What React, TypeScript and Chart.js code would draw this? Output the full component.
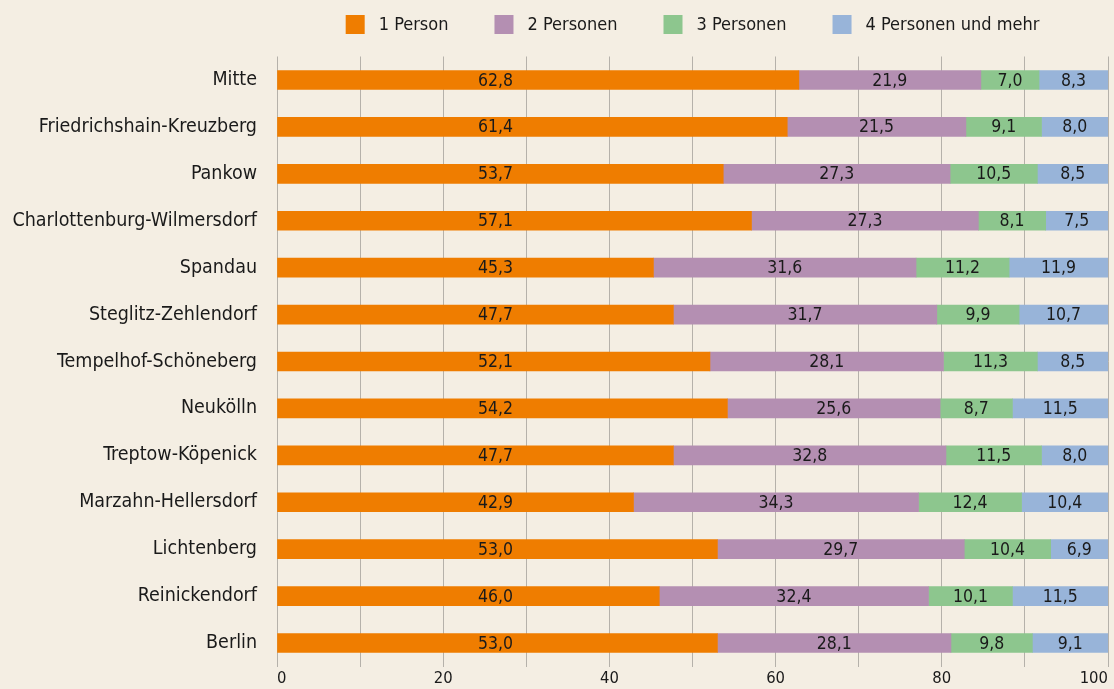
import React, { useEffect, useRef } from 'react';
import { Chart, registerables } from 'chart.js';

Chart.register(...registerables);

const districts = [
  'Mitte',
  'Friedrichshain-Kreuzberg',
  'Pankow',
  'Charlottenburg-Wilmersdorf',
  'Spandau',
  'Steglitz-Zehlendorf',
  'Tempelhof-Schöneberg',
  'Neukölln',
  'Treptow-Köpenick',
  'Marzahn-Hellersdorf',
  'Lichtenberg',
  'Reinickendorf',
  'Berlin',
];

const seriesLabels = ['1 Person', '2 Personen', '3 Personen', '4 Personen und mehr'];
const onePerson = [62.8, 61.4, 53.7, 57.1, 45.3, 47.7, 52.1, 54.2, 47.7, 42.9, 53.0, 46.0, 53.0];
const twoPersons = [21.9, 21.5, 27.3, 27.3, 31.6, 31.7, 28.1, 25.6, 32.8, 34.3, 29.7, 32.4, 28.1];
const threePersons = [7.0, 9.1, 10.5, 8.1, 11.2, 9.9, 11.3, 8.7, 11.5, 12.4, 10.4, 10.1, 9.8];
const fourPlus = [8.3, 8.0, 8.5, 7.5, 11.9, 10.7, 8.5, 11.5, 8.0, 10.4, 6.9, 11.5, 9.1];
const xTickValues = [0, 20, 40, 60, 80, 100];

const COLORS = ['#EF7D00', '#B48FB2', '#8DC68E', '#98B4D9'];
const BG = '#F4EEE3';
const TEXT = '#1a1a1a';
const FAMILY = '"DejaVu Sans Condensed", "DejaVu Sans", sans-serif';
const LEGEND_SIZE = 18;
const YLABEL_SIZE = 19.5;
const VALUE_SIZE = 17.5;
const XTICK_SIZE = 16.5;
const ORANGE_LABEL_AT = 26.3;

const fmt = (v: number) => v.toFixed(1).replace('.', ',');

const legendPlugin = {
  id: 'customLegend',
  afterDraw(chart: any) {
    const { ctx, chartArea } = chart;
    ctx.save();
    ctx.font = `${LEGEND_SIZE}px ${FAMILY}`;
    const box = 19;
    const gap = 14;
    const spacing = 46;
    const items = chart.data.datasets.map((ds: any) => ({
      label: ds.label,
      color: ds.backgroundColor,
      w: ctx.measureText(ds.label).width,
    }));
    const total =
      items.reduce((s: number, it: any) => s + box + gap + it.w, 0) + spacing * (items.length - 1);
    let x = (chartArea.left + chartArea.right) / 2 - total / 2;
    const top = 15;
    ctx.textBaseline = 'middle';
    ctx.textAlign = 'left';
    items.forEach((it: any) => {
      ctx.fillStyle = it.color;
      ctx.fillRect(x, top, box, box);
      ctx.fillStyle = TEXT;
      ctx.fillText(it.label, x + box + gap, top + box / 2 + 1);
      x += box + gap + it.w + spacing;
    });
    ctx.restore();
  },
};

const valueLabelPlugin = {
  id: 'valueLabels',
  afterDatasetsDraw(chart: any) {
    const { ctx } = chart;
    const xScale = chart.scales.x;
    ctx.save();
    ctx.font = `${VALUE_SIZE}px ${FAMILY}`;
    ctx.fillStyle = TEXT;
    ctx.textAlign = 'center';
    ctx.textBaseline = 'middle';
    chart.data.datasets.forEach((ds: any, i: number) => {
      const meta = chart.getDatasetMeta(i);
      meta.data.forEach((bar: any, j: number) => {
        const { x, base, y } = bar.getProps(['x', 'base', 'y'], true);
        let cx = (x + base) / 2;
        if (i === 0) cx = xScale.getPixelForValue(ORANGE_LABEL_AT);
        ctx.fillText(fmt(ds.data[j]), cx, y + 1);
      });
    });
    ctx.restore();
  },
};

export default function App() {
  const canvasRef = useRef<HTMLCanvasElement | null>(null);

  useEffect(() => {
    if (!canvasRef.current) return;
    const seriesData = [onePerson, twoPersons, threePersons, fourPlus];
    const chart = new Chart(canvasRef.current, {
      type: 'bar',
      data: {
        labels: districts,
        datasets: seriesData.map((d, i) => ({
          label: seriesLabels[i],
          data: d,
          backgroundColor: COLORS[i],
          borderWidth: 0,
          barThickness: 19,
        })),
      },
      options: {
        indexAxis: 'y',
        animation: false,
        responsive: true,
        maintainAspectRatio: false,
        layout: { padding: { top: 56.5, right: 6, left: 0, bottom: 0 } },
        plugins: {
          legend: { display: false },
          tooltip: { enabled: false },
        },
        scales: {
          x: {
            stacked: true,
            min: 0,
            max: 100,
            border: { display: false },
            grid: { color: '#B5B1AA', lineWidth: 1, drawTicks: false },
            afterBuildTicks: (scale: any) => {
              const ticks: any[] = [];
              for (let v = 0; v <= 100; v += 10) ticks.push({ value: v });
              scale.ticks = ticks;
            },
            afterFit: (scale: any) => {
              scale.height = 22.5;
              scale.paddingLeft = 0;
              scale.paddingRight = 0;
            },
            ticks: {
              align: 'inner',
              maxRotation: 0,
              autoSkip: false,
              padding: 3,
              color: TEXT,
              font: { family: FAMILY, size: XTICK_SIZE, lineHeight: 1.15 },
              callback: (v: any) => (xTickValues.includes(Number(v)) ? String(v) : ''),
            },
          },
          y: {
            stacked: true,
            border: { display: false },
            grid: { display: false, drawTicks: false },
            afterFit: (scale: any) => {
              scale.width = 277;
              scale.paddingTop = 0;
              scale.paddingBottom = 0;
            },
            ticks: {
              padding: 20,
              color: TEXT,
              font: { family: FAMILY, size: YLABEL_SIZE },
            },
          },
        },
      },
      plugins: [legendPlugin, valueLabelPlugin],
    });
    return () => chart.destroy();
  }, []);

  return (
    <div
      style={{
        position: 'absolute',
        left: 0,
        top: 0,
        width: 1114,
        height: 689,
        background: BG,
      }}
    >
      <canvas ref={canvasRef} />
    </div>
  );
}
